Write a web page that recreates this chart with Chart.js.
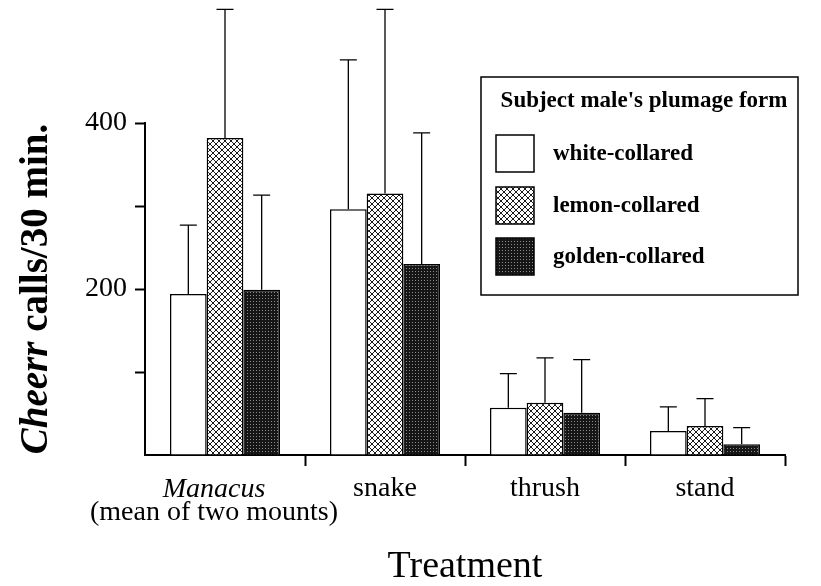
<!DOCTYPE html>
<html>
<head>
<meta charset="utf-8">
<script src="https://cdn.jsdelivr.net/npm/chart.js@4.4.1/dist/chart.umd.min.js"></script>
<style>
  html, body { margin: 0; padding: 0; background: #fff; }
  #wrap { width: 821px; height: 586px; }
</style>
</head>
<body>
<div id="wrap"><canvas id="cheerrChart" width="821" height="586"></canvas></div>
<script>
// treatments on the x axis
const treatments = ['Manacus', 'snake', 'thrush', 'stand'];
const treatmentNote = '(mean of two mounts)';
// subject male's plumage form (legend)
const plumageForms = ['white-collared', 'lemon-collared', 'golden-collared'];
// mean cheerr calls / 30 min
const whiteMeans = [194, 296, 57, 29];
const lemonMeans = [382, 315, 63, 35];
const goldenMeans = [199, 230, 51, 13];
// upper error bars (SD)
const whiteErr = [83, 180, 41, 29];
const lemonErr = [155, 222, 54, 33];
const goldenErr = [114, 158, 64, 20];
// labelled y ticks
const yTickLabels = [200, 400];

const SERIF = '"Liberation Serif", "Times New Roman", serif';

// fill patterns for the bars
function makeHatch() {
    const c = document.createElement('canvas');
    c.width = 6; c.height = 6;
    const g = c.getContext('2d');
    g.fillStyle = '#fff';
    g.fillRect(0, 0, 6, 6);
    g.strokeStyle = '#1a1a1a';
    g.lineWidth = 1;
    g.beginPath();
    g.moveTo(0, 0); g.lineTo(6, 6);
    g.moveTo(0, 6); g.lineTo(6, 0);
    g.stroke();
    return g.createPattern(c, 'repeat');
}

function makeStipple() {
    const c = document.createElement('canvas');
    c.width = 3; c.height = 3;
    const g = c.getContext('2d');
    g.fillStyle = '#161616';
    g.fillRect(0, 0, 3, 3);
    g.fillStyle = '#8a8a8a';
    g.fillRect(1, 1, 1, 1);
    return g.createPattern(c, 'repeat');
}

const fills = ['#ffffff', makeHatch(), makeStipple()];

// upper-only error bars with caps
const errorBars = {
    id: 'errorBars',
    afterDatasetsDraw(chart) {
        const ctx = chart.ctx;
        const y = chart.scales.y;
        ctx.save();
        ctx.strokeStyle = '#000';
        ctx.lineWidth = 1.3;
        chart.data.datasets.forEach((ds, i) => {
            const meta = chart.getDatasetMeta(i);
            meta.data.forEach((bar, j) => {
                const top = y.getPixelForValue(ds.data[j] + ds.errors[j]);
                ctx.beginPath();
                ctx.moveTo(bar.x, bar.y);
                ctx.lineTo(bar.x, top);
                ctx.moveTo(bar.x - 8.5, top);
                ctx.lineTo(bar.x + 8.5, top);
                ctx.stroke();
            });
        });
        ctx.restore();
    }
};

// boxed legend with title, top right
const boxLegend = {
    id: 'boxLegend',
    afterDraw(chart) {
        const ctx = chart.ctx;
        ctx.save();
        ctx.strokeStyle = '#000';
        ctx.lineWidth = 1.5;
        ctx.strokeRect(481, 77, 317, 218);
        ctx.fillStyle = '#000';
        ctx.font = 'bold 23px ' + SERIF;
        ctx.textAlign = 'center';
        ctx.textBaseline = 'alphabetic';
        ctx.fillText("Subject male's plumage form", 644, 107);
        ctx.textAlign = 'left';
        ctx.textBaseline = 'middle';
        const rows = [153, 205, 256];
        chart.data.datasets.forEach((ds, i) => {
            const cy = rows[i];
            ctx.fillStyle = ds.backgroundColor;
            ctx.fillRect(496, cy - 18, 38, 37);
            ctx.lineWidth = 1.5;
            ctx.strokeRect(496, cy - 18, 38, 37);
            ctx.fillStyle = '#000';
            ctx.fillText(ds.label, 553, cy + 1);
        });
        ctx.restore();
    }
};

// rotated y title (italic "Cheerr") and the two-line Manacus label
const extraText = {
    id: 'extraText',
    afterDraw(chart) {
        const ctx = chart.ctx;
        ctx.save();
        ctx.fillStyle = '#000';
        ctx.translate(47, 289);
        ctx.rotate(-Math.PI / 2);
        const italicFont = 'italic bold 39px ' + SERIF;
        const boldFont = 'bold 39px ' + SERIF;
        ctx.font = italicFont;
        const w1 = ctx.measureText('Cheerr').width;
        ctx.font = boldFont;
        const w2 = ctx.measureText(' calls/30 min.').width;
        const start = -(w1 + w2) / 2;
        ctx.textBaseline = 'alphabetic';
        ctx.textAlign = 'left';
        ctx.font = italicFont;
        ctx.fillText('Cheerr', start, 0);
        ctx.font = boldFont;
        ctx.fillText(' calls/30 min.', start + w1, 0);
        ctx.restore();

        // first category label sits a little left of its bar group
        const x = chart.scales.x;
        const cx = x.getPixelForValue(0) - 11;
        ctx.save();
        ctx.fillStyle = '#000';
        ctx.textAlign = 'center';
        ctx.textBaseline = 'alphabetic';
        ctx.font = 'italic 28px ' + SERIF;
        ctx.fillText(treatments[0], cx, 497);
        ctx.font = '28px ' + SERIF;
        ctx.fillText(treatmentNote, cx, 520);
        ctx.restore();
    }
};

const ctx = document.getElementById('cheerrChart');
new Chart(ctx, {
    type: 'bar',
    data: {
        labels: treatments,
        datasets: [
            { label: plumageForms[0], data: whiteMeans, errors: whiteErr },
            { label: plumageForms[1], data: lemonMeans, errors: lemonErr },
            { label: plumageForms[2], data: goldenMeans, errors: goldenErr }
        ].map((ds, i) => Object.assign(ds, {
            backgroundColor: fills[i],
            borderColor: '#000',
            borderWidth: 1.5,
            barPercentage: 1.0,
            categoryPercentage: 0.6875
        }))
    },
    options: {
        responsive: false,
        animation: false,
        layout: { padding: { left: 0, top: 123, right: 36, bottom: 0 } },
        plugins: {
            legend: { display: false },
            tooltip: { enabled: false }
        },
        scales: {
            x: {
                offset: true,
                grid: {
                    offset: true,
                    drawOnChartArea: false,
                    drawTicks: true,
                    tickLength: 11,
                    tickWidth: 2,
                    tickColor: (c) => c.index === 0 ? 'rgba(0,0,0,0)' : '#000'
                },
                border: { color: '#000', width: 2 },
                ticks: {
                    color: '#000',
                    padding: 6,
                    font: { family: SERIF, size: 28 },
                    // first label is drawn by the extraText plugin (two lines, mixed style)
                    callback: (v, i) => i === 0 ? '' : treatments[i]
                },
                title: {
                    display: true,
                    text: 'Treatment',
                    color: '#000',
                    padding: 0,
                    font: { family: SERIF, size: 38, lineHeight: 1.0 }
                },
                afterFit: (scale) => { scale.height = 131; }
            },
            y: {
                min: 0,
                max: 400,
                grid: {
                    drawOnChartArea: false,
                    drawTicks: true,
                    tickLength: 10,
                    tickWidth: 2,
                    tickColor: (c) => (c.tick && c.tick.value === 0) ? 'rgba(0,0,0,0)' : '#000'
                },
                border: { color: '#000', width: 2 },
                ticks: {
                    stepSize: 100,
                    color: '#000',
                    padding: 8,
                    font: { family: SERIF, size: 28 },
                    callback: (v) => yTickLabels.includes(v) ? String(v) : ''
                },
                afterFit: (scale) => { scale.width = 145; }
            }
        }
    },
    plugins: [errorBars, boxLegend, extraText]
});
</script>
</body>
</html>
